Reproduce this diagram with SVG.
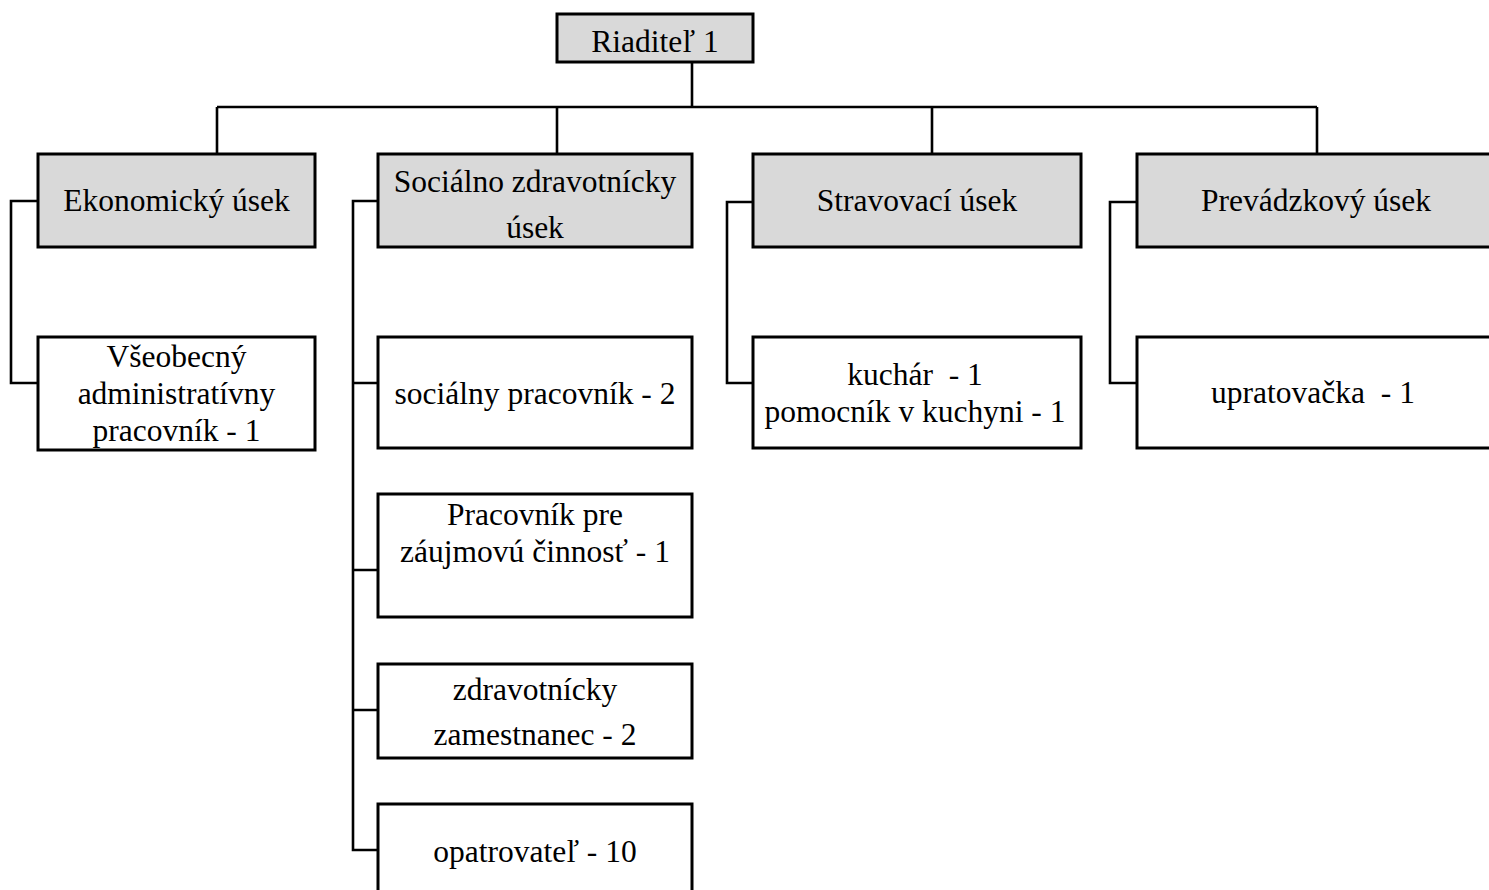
<svg xmlns="http://www.w3.org/2000/svg" width="1489" height="890" viewBox="0 0 1489 890">
<style>
.head rect{fill:#d9d9d9;stroke:#000;stroke-width:3}
.leaf rect{fill:#fff;stroke:#000;stroke-width:3}
text{font-family:"Liberation Serif","Times New Roman",serif;font-size:31.5px;fill:#000;text-anchor:middle}
#connectors path{fill:none;stroke:#000;stroke-width:2.6}
</style>
<rect x="0" y="0" width="1489" height="890" fill="#fff"/>
<g id="connectors">
<path d="M692 62V107M217 107H1317M217 107V154M557 107V154M932 107V154M1317 107V154"/>
<path d="M38 201H11V383H38"/>
<path d="M378 201H353V850H378M353 383H378M353 570H378M353 710H378"/>
<path d="M753 202H727V383H753"/>
<path d="M1137 202H1110V383H1137"/>
</g>
<g id="riaditel" class="head"><rect x="557" y="14" width="196" height="48"/><text x="655" y="52">Riaditeľ 1</text></g>
<g id="ekonomicky" class="head"><rect x="38" y="154" width="277" height="93"/><text x="176.5" y="211">Ekonomický úsek</text></g>
<g id="socialno" class="head"><rect x="378" y="154" width="314" height="93"/><text x="535" y="192">Sociálno zdravotnícky</text><text x="535" y="238">úsek</text></g>
<g id="stravovaci" class="head"><rect x="753" y="154" width="328" height="93"/><text x="917" y="211">Stravovací úsek</text></g>
<g id="prevadzkovy" class="head"><rect x="1137" y="154" width="358" height="93"/><text x="1316" y="211">Prevádzkový úsek</text></g>
<g id="vseobecny" class="leaf"><rect x="38" y="337" width="277" height="113"/><text x="176.5" y="367">Všeobecný</text><text x="176.5" y="404">administratívny</text><text x="176.5" y="441">pracovník - 1</text></g>
<g id="socialny-pracovnik" class="leaf"><rect x="378" y="337" width="314" height="111"/><text x="535" y="404">sociálny pracovník - 2</text></g>
<g id="zaujmova" class="leaf"><rect x="378" y="494" width="314" height="123"/><text x="535" y="525">Pracovník pre</text><text x="535" y="562">záujmovú činnosť - 1</text></g>
<g id="zdravotnicky" class="leaf"><rect x="378" y="664" width="314" height="94"/><text x="535" y="700">zdravotnícky</text><text x="535" y="745">zamestnanec - 2</text></g>
<g id="opatrovatel" class="leaf"><rect x="378" y="804" width="314" height="100"/><text x="535" y="862">opatrovateľ - 10</text></g>
<g id="kuchar" class="leaf"><rect x="753" y="337" width="328" height="111"/><text x="915" y="385" xml:space="preserve">kuchár  - 1</text><text x="915" y="422">pomocník v kuchyni - 1</text></g>
<g id="upratovacka" class="leaf"><rect x="1137" y="337" width="358" height="111"/><text x="1313" y="403" xml:space="preserve">upratovačka  - 1</text></g>
</svg>
